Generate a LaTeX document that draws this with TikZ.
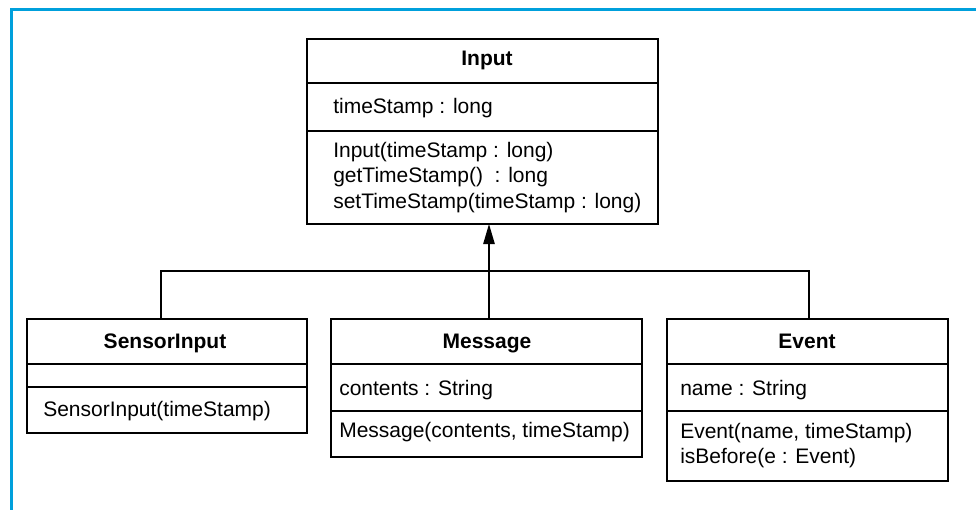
\documentclass[tikz,border=0pt]{standalone}
\usepackage{fontspec}
\setmainfont{Liberation Sans}
\usetikzlibrary{arrows.meta}
\definecolor{frameblue}{RGB}{0,160,220}
\begin{document}
\begin{tikzpicture}[x=0.75pt,y=-0.75pt,
  comp/.style={draw, rectangle, inner sep=0pt, outer sep=0pt, anchor=north west, line width=1.1pt},
  txt/.style={anchor=base west, inner sep=0pt, font=\fontsize{15.75pt}{19pt}\selectfont},
  ttl/.style={anchor=base, inner sep=0pt, font=\fontsize{15.75pt}{19pt}\selectfont\bfseries},
  conn/.style={line width=1.1pt},
  gen/.style={conn, -{Triangle[length=15pt,width=8.5pt]}},
  frameline/.style={draw=frameblue, line width=2.4pt}
]
\useasboundingbox (0,0) rectangle (976,510);
\clip (0,0) rectangle (976,510);
\fill[white] (0,0) rectangle (976,510);
\draw[frameline] (11.5,530) -- (11.5,9.5) -- (1000,9.5);

% Input
\node[comp, minimum width=351*0.75pt, minimum height=44*0.75pt] (inT) at (307,39) {};
\node[comp, minimum width=351*0.75pt, minimum height=48*0.75pt] (inA) at (inT.south west) {};
\node[comp, minimum width=351*0.75pt, minimum height=93*0.75pt] (inM) at (inA.south west) {};
\node[ttl] (inTt) at (487,66) {Input};
\node[txt] (inA1) at (333,114) {timeStamp : long};
\node[txt] (inM1) at (333,157) {Input(timeStamp : long)};
\node[txt] (inM2) at (333,183) {getTimeStamp()\ \ : long};
\node[txt] (inM3) at (333,209) {setTimeStamp(timeStamp : long)};

% SensorInput
\node[comp, minimum width=280*0.75pt, minimum height=45*0.75pt] (seT) at (27,319) {};
\node[comp, minimum width=280*0.75pt, minimum height=23*0.75pt] (seA) at (seT.south west) {};
\node[comp, minimum width=280*0.75pt, minimum height=46*0.75pt] (seM) at (seA.south west) {};
\node[ttl] (seTt) at (165,348) {SensorInput};
\node[txt] (seM1) at (43,416) {SensorInput(timeStamp)};

% Message
\node[comp, minimum width=311*0.75pt, minimum height=45*0.75pt] (meT) at (331,319) {};
\node[comp, minimum width=311*0.75pt, minimum height=47*0.75pt] (meA) at (meT.south west) {};
\node[comp, minimum width=311*0.75pt, minimum height=46*0.75pt] (meM) at (meA.south west) {};
\node[ttl] (meTt) at (487,348) {Message};
\node[txt] (meA1) at (339,395) {contents : String};
\node[txt] (meM1) at (339,437) {Message(contents, timeStamp)};

% Event
\node[comp, minimum width=281*0.75pt, minimum height=45*0.75pt] (evT) at (667,319) {};
\node[comp, minimum width=281*0.75pt, minimum height=47*0.75pt] (evA) at (evT.south west) {};
\node[comp, minimum width=281*0.75pt, minimum height=70*0.75pt] (evM) at (evA.south west) {};
\node[ttl] (evTt) at (807,348) {Event};
\node[txt] (evA1) at (680,395) {name : String};
\node[txt] (evM1) at (680,438) {Event(name, timeStamp)};
\node[txt] (evM2) at (680,463) {isBefore(e : Event)};

% connectors
\coordinate (jm) at (489,271);
\coordinate (jl) at (161,271);
\coordinate (jr) at (809,271);
\draw[conn] (seT.north -| jl) -- (jl) -- (jr) -- (evT.north -| jr);
\draw[gen] (meT.north -| jm) -- (inM.south -| jm);
\end{tikzpicture}
\end{document}
